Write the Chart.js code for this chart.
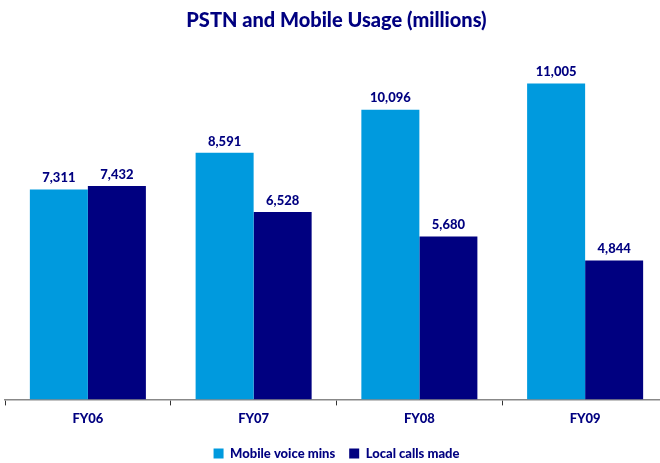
<!DOCTYPE html>
<html>
<head>
<meta charset="utf-8">
<script src="https://cdn.jsdelivr.net/npm/chart.js@4"></script>
<style>
  html, body { margin: 0; padding: 0; background: #fff; overflow: hidden; }
  #wrap { position: relative; width: 668px; height: 463px; }
</style>
</head>
<body>
<div id="wrap"><canvas id="usageChart"></canvas></div>
<script>
// Dados do gráfico
const years = ["FY06", "FY07", "FY08", "FY09"];
const mobileMins = [7311, 8591, 10096, 11005];
const localCalls = [7432, 6528, 5680, 4844];

const navy = "#000080";
const lightBlue = "#009ADE";

// Plugin simples para escrever os valores em cima das barras
const valueLabels = {
  id: "valueLabels",
  afterDatasetsDraw(chart) {
    const ctx = chart.ctx;
    ctx.save();
    ctx.font = "900 13px Lato";
    ctx.fillStyle = navy;
    ctx.textAlign = "center";
    ctx.textBaseline = "bottom";
    chart.data.datasets.forEach((ds, i) => {
      chart.getDatasetMeta(i).data.forEach((bar, j) => {
        ctx.fillText(ds.data[j].toLocaleString("en-US"), bar.x, bar.y - 5);
      });
    });
    ctx.restore();
  }
};

const ctx = document.getElementById("usageChart").getContext("2d");
new Chart(ctx, {
  type: "bar",
  data: {
    labels: years,
    datasets: [
      { label: "Mobile voice mins", data: mobileMins, backgroundColor: lightBlue },
      { label: "Local calls made", data: localCalls, backgroundColor: navy }
    ]
  },
  options: {
    responsive: true,
    maintainAspectRatio: false,
    animation: false,
    layout: { padding: { left: 5, right: 0, top: 5, bottom: -7 } },
    datasets: { bar: { categoryPercentage: 0.7, barPercentage: 1 } },
    scales: {
      x: {
        grid: { offset: true, drawOnChartArea: false, tickLength: 6, color: "#333" },
        border: { color: "#888", width: 1.5 },
        ticks: { color: navy, font: { family: "Lato", weight: "900", size: 13 }, padding: 6 }
      },
      y: { display: false, min: 0, max: 12000 }
    },
    plugins: {
      title: {
        display: true,
        text: "PSTN and Mobile Usage (millions)",
        color: navy,
        font: { family: "Lato", weight: "900", size: 20 },
        padding: { top: 4, bottom: 22 }
      },
      legend: {
        position: "bottom",
        labels: {
          color: navy,
          font: { family: "Lato", weight: "900", size: 13 },
          boxWidth: 10, boxHeight: 10, padding: 14
        }
      },
      tooltip: { enabled: false }
    }
  },
  plugins: [valueLabels]
});
</script>
</body>
</html>
